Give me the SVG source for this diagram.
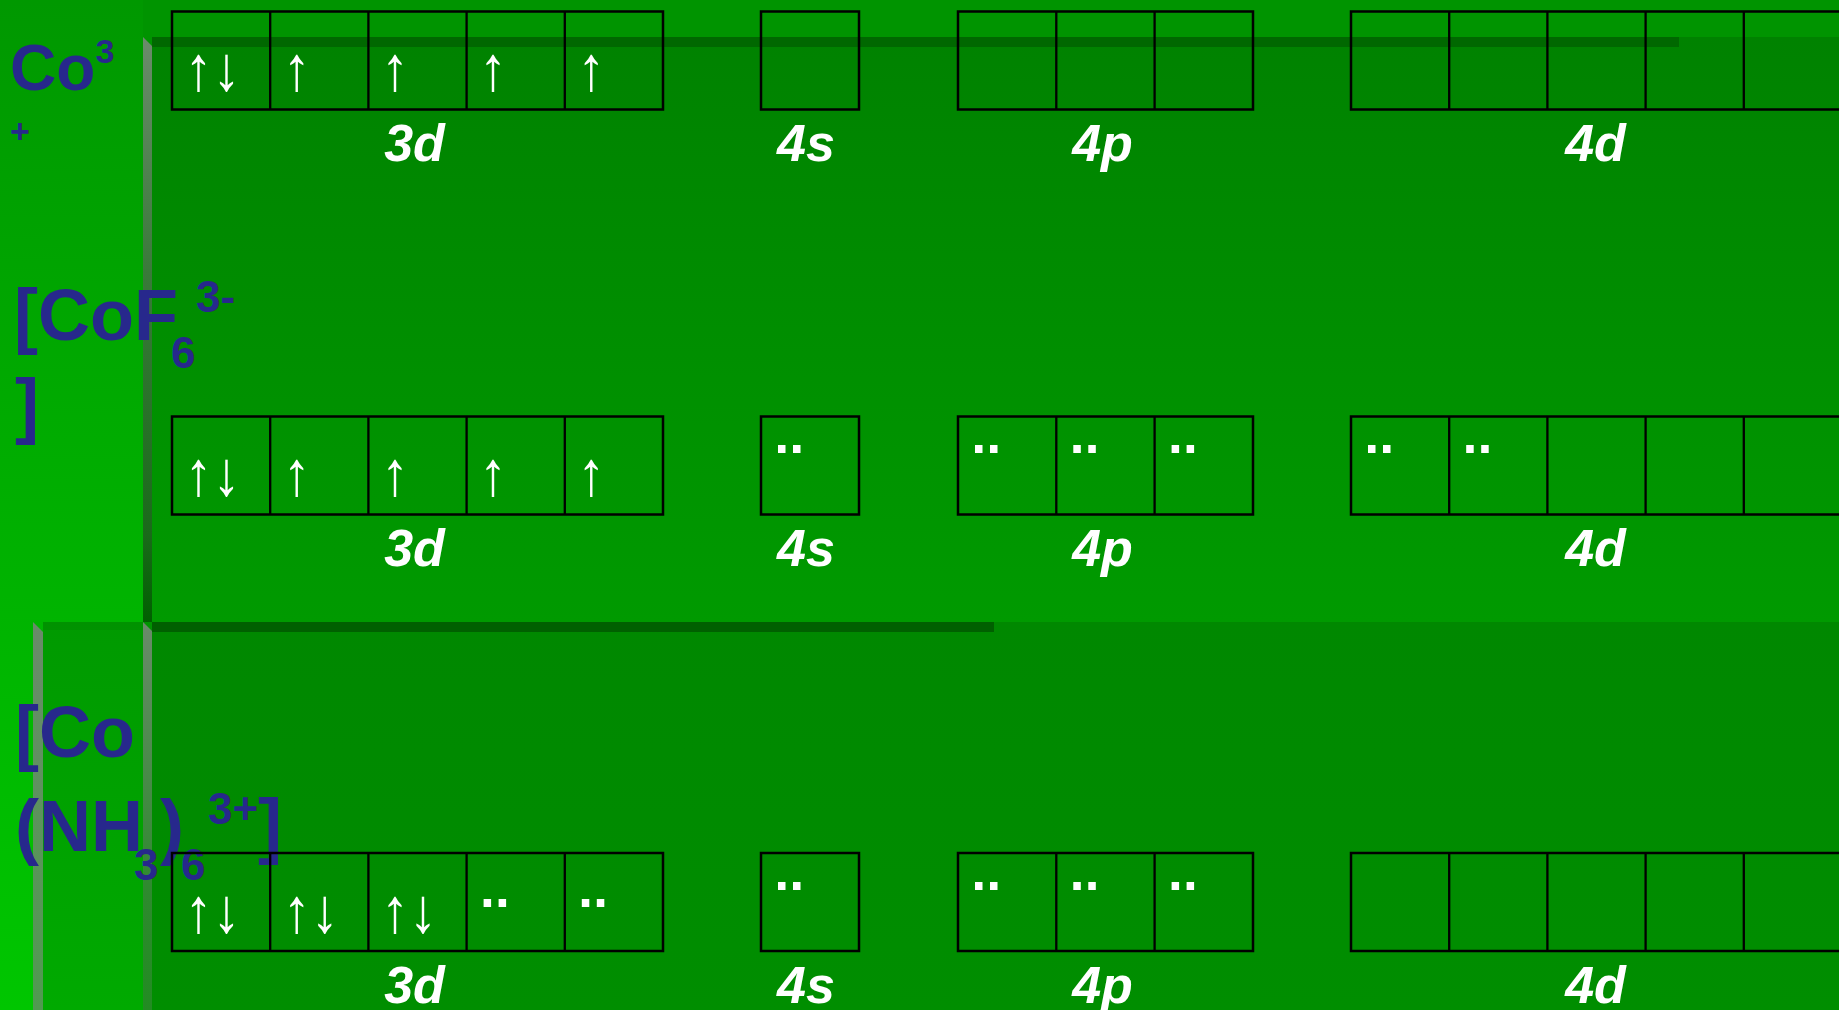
<svg xmlns="http://www.w3.org/2000/svg" width="1839" height="1010" viewBox="0 0 1839 1010">
<defs>
<linearGradient id="gLeft" x1="0" y1="0" x2="0" y2="1"><stop offset="0" stop-color="#009800"/><stop offset="1" stop-color="#00c600"/></linearGradient>
<linearGradient id="gP1" x1="0" y1="0" x2="0" y2="1"><stop offset="0" stop-color="#008200"/><stop offset="1" stop-color="#009a00"/></linearGradient>
<linearGradient id="gP2" x1="0" y1="0" x2="0" y2="1"><stop offset="0" stop-color="#008800"/><stop offset="1" stop-color="#008e00"/></linearGradient>
<linearGradient id="gP2L" x1="0" y1="0" x2="0" y2="1"><stop offset="0" stop-color="#009a00"/><stop offset="1" stop-color="#00aa00"/></linearGradient>
<linearGradient id="gBar1" x1="0" y1="0" x2="0" y2="1"><stop offset="0" stop-color="#6b8b6b"/><stop offset="0.4" stop-color="#3a7a3a"/><stop offset="0.85" stop-color="#1a6a1a"/><stop offset="1" stop-color="#006000"/></linearGradient>
<linearGradient id="gBar2" x1="0" y1="0" x2="0" y2="1"><stop offset="0" stop-color="#6a8a6a"/><stop offset="0.7" stop-color="#2e8a2e"/><stop offset="1" stop-color="#228c22"/></linearGradient>
<linearGradient id="gBar3" x1="0" y1="0" x2="0" y2="1"><stop offset="0" stop-color="#6a8a6a"/><stop offset="1" stop-color="#509a50"/></linearGradient>
</defs>
<style>
.box{fill:none;stroke:#000;stroke-width:2.5}
.div{stroke:#000;stroke-width:2.3}
.orb{font-family:"Liberation Sans",Arial,sans-serif;font-weight:bold;font-style:italic;font-size:52px;fill:#fff;text-anchor:middle}
.arr{font-family:"Liberation Sans",Arial,sans-serif;font-size:56px;fill:#fff}
.dot{fill:#fff}
.lbl{font-family:"Liberation Sans",Arial,sans-serif;font-weight:bold;fill:#27288c}
.big{font-size:72px}
.sm{font-size:44px}
.co{font-size:64px}
.cos{font-size:34px}
</style>

<g id="background">
<rect width="1839" height="1010" fill="#009400"/>
<rect x="0" y="0" width="143" height="1010" fill="url(#gLeft)"/>
<rect x="152" y="37" width="1687" height="585" fill="url(#gP1)"/>
<rect x="43" y="622" width="100" height="388" fill="url(#gP2L)"/>
<rect x="152" y="622" width="1687" height="388" fill="url(#gP2)"/>
<rect x="43" y="622" width="100" height="8" fill="#000" opacity="0.05"/>
<polygon points="143,37 152,46 152,622 143,622" fill="url(#gBar1)"/>
<polygon points="143,622 152,631 152,1010 143,1010" fill="url(#gBar2)"/>
<polygon points="33,622 43,632 43,1010 33,1010" fill="url(#gBar3)"/>
<rect x="152" y="37" width="1527" height="10" fill="#006800"/>
<rect x="152" y="622" width="842" height="10" fill="#006000"/>
</g>

<g id="label-co3">
<text class="lbl co" x="10" y="90">Co<tspan class="cos" x="95.5" y="63">3</tspan><tspan class="cos" x="10" y="143">+</tspan></text>
</g>

<g id="label-cof6">
<text class="lbl big" x="14" y="340">[CoF<tspan class="sm" x="171" y="368">6</tspan><tspan class="sm" x="196" y="312">3-</tspan><tspan x="15" y="430">]</tspan></text>
</g>

<g id="label-conh3">
<text class="lbl big" x="15" y="757">[Co<tspan x="15" y="851">(NH</tspan><tspan class="sm" x="134" y="880">3</tspan><tspan x="160" y="851">)</tspan><tspan class="sm" x="181" y="880">6</tspan><tspan class="sm" x="208" y="824">3+</tspan><tspan x="258" y="850">]</tspan></text>
</g>

<!-- Row 1: Co3+ -->
<g id="row1-3d">
<rect class="box" x="172" y="11.5" width="491" height="98"/>
<path class="div" d="M270.2,11.5V109.5M368.4,11.5V109.5M466.6,11.5V109.5M564.8,11.5V109.5"/>
<text class="arr" transform="translate(184.5,90) scale(1,1.12)">↑↓</text>
<text class="arr" transform="translate(282.7,90) scale(1,1.12)">↑</text>
<text class="arr" transform="translate(380.9,90) scale(1,1.12)">↑</text>
<text class="arr" transform="translate(479.1,90) scale(1,1.12)">↑</text>
<text class="arr" transform="translate(577.3,90) scale(1,1.12)">↑</text>
<text class="orb" x="414.5" y="161">3d</text>
</g>
<g id="row1-4s">
<rect class="box" x="761" y="11.5" width="98" height="98"/>
<text class="orb" x="806" y="161">4s</text>
</g>
<g id="row1-4p">
<rect class="box" x="958" y="11.5" width="295" height="98"/>
<path class="div" d="M1056.3,11.5V109.5M1154.6,11.5V109.5"/>
<text class="orb" x="1102.5" y="161">4p</text>
</g>
<g id="row1-4d">
<rect class="box" x="1351" y="11.5" width="491" height="98"/>
<path class="div" d="M1449.2,11.5V109.5M1547.4,11.5V109.5M1645.6,11.5V109.5M1743.8,11.5V109.5"/>
<text class="orb" x="1595.5" y="161">4d</text>
</g>

<!-- Row 2: [CoF6]3- -->
<g id="row2-3d">
<rect class="box" x="172" y="416.5" width="491" height="98"/>
<path class="div" d="M270.2,416.5V514.5M368.4,416.5V514.5M466.6,416.5V514.5M564.8,416.5V514.5"/>
<text class="arr" transform="translate(184.5,495) scale(1,1.12)">↑↓</text>
<text class="arr" transform="translate(282.7,495) scale(1,1.12)">↑</text>
<text class="arr" transform="translate(380.9,495) scale(1,1.12)">↑</text>
<text class="arr" transform="translate(479.1,495) scale(1,1.12)">↑</text>
<text class="arr" transform="translate(577.3,495) scale(1,1.12)">↑</text>
<text class="orb" x="414.5" y="566">3d</text>
</g>
<g id="row2-4s">
<rect class="box" x="761" y="416.5" width="98" height="98"/>
<rect class="dot" x="778" y="445" width="7.5" height="8"/><rect class="dot" x="793" y="445" width="7.5" height="8"/>
<text class="orb" x="806" y="566">4s</text>
</g>
<g id="row2-4p">
<rect class="box" x="958" y="416.5" width="295" height="98"/>
<path class="div" d="M1056.3,416.5V514.5M1154.6,416.5V514.5"/>
<rect class="dot" x="975" y="445" width="7.5" height="8"/><rect class="dot" x="990" y="445" width="7.5" height="8"/>
<rect class="dot" x="1073.3" y="445" width="7.5" height="8"/><rect class="dot" x="1088.3" y="445" width="7.5" height="8"/>
<rect class="dot" x="1171.6" y="445" width="7.5" height="8"/><rect class="dot" x="1186.6" y="445" width="7.5" height="8"/>
<text class="orb" x="1102.5" y="566">4p</text>
</g>
<g id="row2-4d">
<rect class="box" x="1351" y="416.5" width="491" height="98"/>
<path class="div" d="M1449.2,416.5V514.5M1547.4,416.5V514.5M1645.6,416.5V514.5M1743.8,416.5V514.5"/>
<rect class="dot" x="1368" y="445" width="7.5" height="8"/><rect class="dot" x="1383" y="445" width="7.5" height="8"/>
<rect class="dot" x="1466.2" y="445" width="7.5" height="8"/><rect class="dot" x="1481.2" y="445" width="7.5" height="8"/>
<text class="orb" x="1595.5" y="566">4d</text>
</g>

<!-- Row 3: [Co(NH3)6]3+ -->
<g id="row3-3d">
<rect class="box" x="172" y="853" width="491" height="98"/>
<path class="div" d="M270.2,853V951M368.4,853V951M466.6,853V951M564.8,853V951"/>
<text class="arr" transform="translate(184.5,932) scale(1,1.12)">↑↓</text>
<text class="arr" transform="translate(282.7,932) scale(1,1.12)">↑↓</text>
<text class="arr" transform="translate(380.9,932) scale(1,1.12)">↑↓</text>
<rect class="dot" x="483.6" y="899" width="7.5" height="8"/><rect class="dot" x="498.6" y="899" width="7.5" height="8"/>
<rect class="dot" x="581.8" y="899" width="7.5" height="8"/><rect class="dot" x="596.8" y="899" width="7.5" height="8"/>
<text class="orb" x="414.5" y="1002.5">3d</text>
</g>
<g id="row3-4s">
<rect class="box" x="761" y="853" width="98" height="98"/>
<rect class="dot" x="778" y="882" width="7.5" height="8"/><rect class="dot" x="793" y="882" width="7.5" height="8"/>
<text class="orb" x="806" y="1002.5">4s</text>
</g>
<g id="row3-4p">
<rect class="box" x="958" y="853" width="295" height="98"/>
<path class="div" d="M1056.3,853V951M1154.6,853V951"/>
<rect class="dot" x="975" y="882" width="7.5" height="8"/><rect class="dot" x="990" y="882" width="7.5" height="8"/>
<rect class="dot" x="1073.3" y="882" width="7.5" height="8"/><rect class="dot" x="1088.3" y="882" width="7.5" height="8"/>
<rect class="dot" x="1171.6" y="882" width="7.5" height="8"/><rect class="dot" x="1186.6" y="882" width="7.5" height="8"/>
<text class="orb" x="1102.5" y="1002.5">4p</text>
</g>
<g id="row3-4d">
<rect class="box" x="1351" y="853" width="491" height="98"/>
<path class="div" d="M1449.2,853V951M1547.4,853V951M1645.6,853V951M1743.8,853V951"/>
<text class="orb" x="1595.5" y="1002.5">4d</text>
</g>

<g id="connectors"></g>
</svg>
